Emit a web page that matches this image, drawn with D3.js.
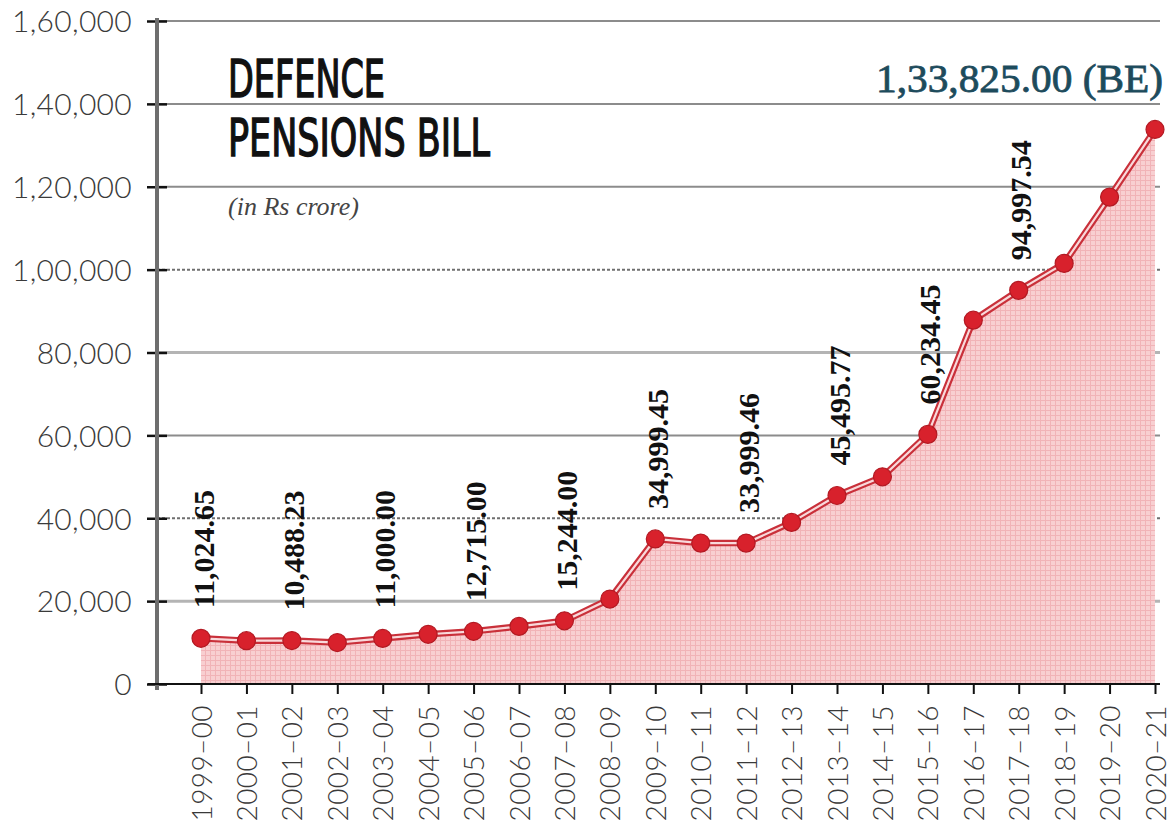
<!DOCTYPE html>
<html>
<head>
<meta charset="utf-8">
<script src="https://cdn.jsdelivr.net/npm/d3@7"></script>
<style>
  html, body { margin: 0; padding: 0; background: #ffffff; }
  svg { display: block; }
</style>
</head>
<body>
<svg id="chart" width="1172" height="830"></svg>
<script>
// Financial years on the x axis
const categories = [
  "1999–00", "2000–01", "2001–02", "2002–03", "2003–04", "2004–05",
  "2005–06", "2006–07", "2007–08", "2008–09", "2009–10", "2010–11",
  "2011–12", "2012–13", "2013–14", "2014–15", "2015–16", "2016–17",
  "2017–18", "2018–19", "2019–20", "2020–21"
];

// Defence pensions bill, Rs crore
const pensionBill = [
  11024.65, 10450, 10488.23, 10000, 11000.00, 12000,
  12715.00, 13900, 15244.00, 20500, 34999.45, 34000,
  33999.46, 39000, 45495.77, 50000, 60234.45, 87800,
  94997.54, 101500, 117500, 133825.00
];

// Years whose value is written above the point
const labelledYears = [
  "1999–00", "2001–02", "2003–04", "2005–06", "2007–08",
  "2009–10", "2011–12", "2013–14", "2015–16", "2017–18"
];

// Year carrying the budget-estimate callout
const budgetEstimateYear = "2020–21";

// Value-axis ticks
const yTicks = [0, 20000, 40000, 60000, 80000, 100000, 120000, 140000, 160000];

const titleLines = ["DEFENCE", "PENSIONS BILL"];
const unitNote = "(in Rs crore)";

// ---- helpers ----
// Indian digit grouping: 1,60,000
function indianGroup(n) {
  const s = String(Math.round(n));
  if (s.length <= 3) return s;
  const last3 = s.slice(-3);
  let rest = s.slice(0, -3);
  const parts = [];
  while (rest.length > 2) { parts.unshift(rest.slice(-2)); rest = rest.slice(0, -2); }
  if (rest.length) parts.unshift(rest);
  return parts.join(",") + "," + last3;
}
const fmtValue = d3.format(",.2f");

const svg = d3.select("#chart");

const x = d3.scalePoint().domain(categories).range([201, 1155]);
const y = d3.scaleLinear().domain([0, 160000]).range([684, 21]);

const axisX = 157, plotRight = 1160;

// ---- pattern for the halftone-like area fill ----
const defs = svg.append("defs");
const pat = defs.append("pattern")
  .attr("id", "areaTexture")
  .attr("patternUnits", "userSpaceOnUse")
  .attr("width", 5).attr("height", 5);
pat.append("rect").attr("width", 5).attr("height", 5).attr("fill", "#f8cfd1");
pat.append("rect").attr("x", 0).attr("y", 0).attr("width", 5).attr("height", 1).attr("fill", "#f1b3b7");
pat.append("rect").attr("x", 0).attr("y", 0).attr("width", 1).attr("height", 5).attr("fill", "#f1b3b7");

// ---- gridlines ----
const grid = svg.append("g");
grid.selectAll("line")
  .data(yTicks.filter(d => d > 0))
  .join("line")
  .attr("x1", axisX).attr("x2", plotRight)
  .attr("y1", d => y(d)).attr("y2", d => y(d))
  .attr("stroke", d => (d === 100000 || d === 40000) ? "#6f6f6f" : (d === 80000 || d === 20000) ? "#b4b4b4" : "#8c8c8c")
  .attr("stroke-width", d => (d === 80000 || d === 20000) ? 3 : 2)
  .attr("stroke-dasharray", d => (d === 100000 || d === 40000) ? "3,2" : null);

// ---- area under the line ----
const series = categories.map((c, i) => ({ cat: c, v: pensionBill[i] }));

svg.append("path")
  .datum(series)
  .attr("fill", "url(#areaTexture)")
  .attr("d", d3.area()
    .x(d => x(d.cat))
    .y0(y(0))
    .y1(d => y(d.v)));

// ---- y axis ----
const yAxis = d3.axisLeft(y)
  .tickValues(yTicks)
  .tickFormat(indianGroup)
  .tickSize(10)
  .tickPadding(15);

const yg = svg.append("g")
  .attr("transform", `translate(${axisX},0)`)
  .call(yAxis);
yg.select(".domain").remove();
yg.selectAll(".tick line")
  .attr("x1", -10).attr("x2", 10)
  .attr("stroke", "#111").attr("stroke-width", 2.5);
yg.selectAll(".tick text")
  .attr("font-family", "Lato, 'Open Sans', sans-serif")
  .attr("font-weight", 300)
  .attr("font-size", 30)
  .attr("fill", "#3a3a3a")
  .attr("dy", "0.36em")
  .attr("letter-spacing", "0.3");

// vertical axis bar
svg.append("line")
  .attr("x1", axisX).attr("x2", axisX)
  .attr("y1", y(160000) - 3).attr("y2", y(0) + 6)
  .attr("stroke", "#6e6e6e").attr("stroke-width", 4);

// ---- x axis ----
const xAxis = d3.axisBottom(x).tickSize(10).tickPadding(12);
const xg = svg.append("g")
  .attr("transform", `translate(0,${y(0)})`)
  .call(xAxis);
xg.select(".domain").remove();
xg.selectAll(".tick line").attr("stroke", "#111").attr("stroke-width", 2);
xg.selectAll(".tick text")
  .attr("font-family", "Lato, 'Open Sans', sans-serif")
  .attr("font-weight", 300)
  .attr("font-size", 28)
  .attr("fill", "#3a3a3a")
  .attr("letter-spacing", "0.4")
  .attr("text-anchor", "end")
  .attr("transform", "rotate(-90)")
  .attr("x", -21)
  .attr("y", 0)
  .attr("dy", "0.36em");

svg.append("line")
  .attr("x1", 148).attr("x2", plotRight)
  .attr("y1", y(0)).attr("y2", y(0))
  .attr("stroke", "#111").attr("stroke-width", 2);

// ---- line: red double rule ----
const line = d3.line().x(d => x(d.cat)).y(d => y(d.v));
svg.append("path")
  .datum(series)
  .attr("fill", "none")
  .attr("stroke", "#c9303a")
  .attr("stroke-width", 6.5)
  .attr("d", line);
svg.append("path")
  .datum(series)
  .attr("fill", "none")
  .attr("stroke", "#f9d9db")
  .attr("stroke-width", 2.2)
  .attr("d", line);

// ---- markers ----
svg.append("g")
  .selectAll("circle")
  .data(series)
  .join("circle")
  .attr("cx", d => x(d.cat))
  .attr("cy", d => y(d.v))
  .attr("r", 9)
  .attr("fill", "#d8212c")
  .attr("stroke", "#b31a23")
  .attr("stroke-width", 1.2);

// ---- value labels (vertical) ----
svg.append("g")
  .selectAll("text")
  .data(series.filter(d => labelledYears.includes(d.cat)))
  .join("text")
  .attr("transform", d => `translate(${x(d.cat) + 2},${y(d.v) - 30}) rotate(-90)`)
  .attr("dy", "0.35em")
  .attr("font-family", "'Liberation Serif', 'Times New Roman', serif")
  .attr("font-weight", "bold")
  .attr("font-size", 30)
  .attr("fill", "#111")
  .text(d => fmtValue(d.v));

// ---- budget-estimate callout ----
const beVal = pensionBill[categories.indexOf(budgetEstimateYear)];
svg.append("text")
  .attr("x", 1163).attr("y", 92)
  .attr("text-anchor", "end")
  .attr("font-family", "'Liberation Serif', 'Times New Roman', serif")
  .attr("font-size", 40)
  .attr("fill", "#1d4b5c")
  .attr("stroke", "#1d4b5c").attr("stroke-width", 0.8)
  .attr("textLength", 287).attr("lengthAdjust", "spacingAndGlyphs")
  .text(indianGroup(beVal) + ".00 (BE)");

// ---- title ----
const title = svg.append("g")
  .attr("font-family", "'Liberation Sans Narrow', 'DejaVu Sans Condensed', sans-serif")
  .attr("font-size", 52)
  .attr("fill", "#111")
  .attr("stroke", "#111").attr("stroke-width", 1.4);
title.append("text").attr("x", 228).attr("y", 97)
  .attr("textLength", 157).attr("lengthAdjust", "spacingAndGlyphs")
  .text(titleLines[0]);
title.append("text").attr("x", 228).attr("y", 156)
  .attr("textLength", 262).attr("lengthAdjust", "spacingAndGlyphs")
  .text(titleLines[1]);

svg.append("text")
  .attr("x", 228).attr("y", 215)
  .attr("font-family", "'Liberation Serif', 'Times New Roman', serif")
  .attr("font-style", "italic")
  .attr("font-size", 26)
  .attr("fill", "#444")
  .text(unitNote);
</script>
</body>
</html>
